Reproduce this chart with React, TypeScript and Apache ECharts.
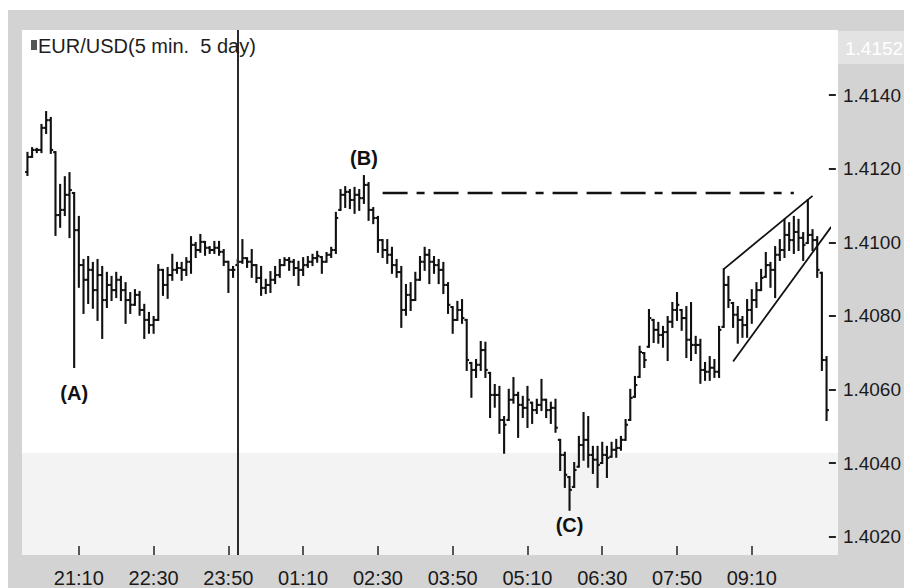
import React, { useEffect, useRef } from 'react';
import * as echarts from 'echarts';

// 5-minute bars, first bar at 20:15
const FIRST_BAR = '20:15';
const BAR_COUNT = 172;
const tickLabels = ['21:10', '22:30', '23:50', '01:10', '02:30', '03:50', '05:10', '06:30', '07:50', '09:10'];
const priceTicks = [1.402, 1.404, 1.406, 1.408, 1.41, 1.412, 1.414];
const dayBreak = '00:00';
const topPriceLabel = '1.4152';
const title = 'EUR/USD(5 min.  5 day)';

const opens = [
  1.41191, 1.41232, 1.41251, 1.41251, 1.41311, 1.41332, 1.41245, 1.41074, 1.41088, 1.41129,
  1.41134, 1.41033, 1.40938, 1.40898, 1.40925, 1.40870, 1.40911, 1.40843, 1.40884, 1.40870,
  1.40898, 1.40870, 1.40843, 1.40830, 1.40857, 1.40816, 1.40789, 1.40775, 1.40789, 1.40925,
  1.40884, 1.40911, 1.40925, 1.40930, 1.40925, 1.40947, 1.40993, 1.40979, 1.41001, 1.40985,
  1.40979, 1.40985, 1.40974, 1.40947, 1.40925, 1.40938, 1.40947, 1.40957, 1.40947, 1.40938,
  1.40903, 1.40876, 1.40884, 1.40898, 1.40911, 1.40938, 1.40952, 1.40947, 1.40930, 1.40925,
  1.40938, 1.40947, 1.40957, 1.40960, 1.40947, 1.40966, 1.40979, 1.41088, 1.41129, 1.41137,
  1.41115, 1.41129, 1.41120, 1.41156, 1.41088, 1.41066, 1.41006, 1.40979, 1.40966, 1.40938,
  1.40919, 1.40816, 1.40857, 1.40843, 1.40898, 1.40947, 1.40966, 1.40947, 1.40938, 1.40925,
  1.40884, 1.40824, 1.40789, 1.40816, 1.40789, 1.40672, 1.40653, 1.40667, 1.40707, 1.40645,
  1.40585, 1.40585, 1.40517, 1.40517, 1.40572, 1.40585, 1.40558, 1.40550, 1.40564, 1.40544,
  1.40558, 1.40572, 1.40544, 1.40550, 1.40463, 1.40422, 1.40362, 1.40335, 1.40390, 1.40449,
  1.40463, 1.40422, 1.40409, 1.40400, 1.40422, 1.40417, 1.40436, 1.40441, 1.40463, 1.40517,
  1.40580, 1.40634, 1.40699, 1.40716, 1.40789, 1.40762, 1.40748, 1.40756, 1.40784, 1.40816,
  1.40816, 1.40794, 1.40735, 1.40721, 1.40721, 1.40653, 1.40648, 1.40659, 1.40648, 1.40770,
  1.40884, 1.40835, 1.40803, 1.40789, 1.40775, 1.40816, 1.40843, 1.40870, 1.40906, 1.40938,
  1.40925, 1.40966, 1.40979, 1.41020, 1.41006, 1.41028, 1.41012, 1.40998, 1.41020, 1.41006,
  1.40917, 1.40680,
];

const highs = [
  1.41243, 1.41256, 1.41254, 1.41319, 1.41354, 1.41338, 1.41245, 1.41156, 1.41177, 1.41188,
  1.41134, 1.41069, 1.40952, 1.40960, 1.40944, 1.40952, 1.40933, 1.40917, 1.40906, 1.40917,
  1.40906, 1.40889, 1.40862, 1.40870, 1.40865, 1.40830, 1.40808, 1.40797, 1.40938, 1.40925,
  1.40930, 1.40966, 1.40944, 1.40944, 1.40957, 1.41014, 1.40998, 1.41020, 1.41001, 1.40987,
  1.41001, 1.41001, 1.40979, 1.40947, 1.40933, 1.40952, 1.41006, 1.40957, 1.40979, 1.40938,
  1.40933, 1.40898, 1.40919, 1.40933, 1.40952, 1.40957, 1.40957, 1.40952, 1.40947, 1.40957,
  1.40960, 1.40966, 1.40974, 1.40960, 1.40971, 1.40985, 1.41080, 1.41142, 1.41150, 1.41142,
  1.41148, 1.41142, 1.41180, 1.41161, 1.41093, 1.41069, 1.41006, 1.41006, 1.40985, 1.40952,
  1.40933, 1.40884, 1.40889, 1.40917, 1.40960, 1.40985, 1.40979, 1.40960, 1.40952, 1.40944,
  1.40889, 1.40824, 1.40838, 1.40843, 1.40789, 1.40672, 1.40680, 1.40729, 1.40727, 1.40645,
  1.40612, 1.40607, 1.40525, 1.40599, 1.40631, 1.40591, 1.40580, 1.40607, 1.40564, 1.40572,
  1.40626, 1.40572, 1.40564, 1.40572, 1.40463, 1.40428, 1.40362, 1.40400, 1.40471, 1.40536,
  1.40525, 1.40444, 1.40444, 1.40455, 1.40444, 1.40455, 1.40463, 1.40471, 1.40517, 1.40599,
  1.40634, 1.40716, 1.40699, 1.40816, 1.40789, 1.40781, 1.40770, 1.40797, 1.40835, 1.40862,
  1.40816, 1.40824, 1.40835, 1.40743, 1.40735, 1.40672, 1.40688, 1.40680, 1.40770, 1.40927,
  1.40906, 1.40835, 1.40824, 1.40797, 1.40843, 1.40870, 1.40889, 1.40925, 1.40971, 1.40944,
  1.40987, 1.41006, 1.41061, 1.41052, 1.41069, 1.41061, 1.41025, 1.41115, 1.41033, 1.41014,
  1.40917, 1.40688,
];

const lows = [
  1.41183, 1.41232, 1.41245, 1.41245, 1.41297, 1.41243, 1.41020, 1.41042, 1.41074, 1.41014,
  1.40661, 1.40879, 1.40808, 1.40835, 1.40822, 1.40789, 1.40740, 1.40824, 1.40843, 1.40851,
  1.40843, 1.40781, 1.40808, 1.40830, 1.40803, 1.40740, 1.40754, 1.40754, 1.40789, 1.40857,
  1.40849, 1.40898, 1.40917, 1.40898, 1.40911, 1.40917, 1.40960, 1.40974, 1.40966, 1.40971,
  1.40971, 1.40966, 1.40938, 1.40865, 1.40906, 1.40938, 1.40944, 1.40933, 1.40906, 1.40892,
  1.40857, 1.40862, 1.40865, 1.40889, 1.40906, 1.40938, 1.40925, 1.40911, 1.40884, 1.40911,
  1.40933, 1.40938, 1.40947, 1.40917, 1.40947, 1.40960, 1.40971, 1.41088, 1.41096, 1.41093,
  1.41080, 1.41088, 1.41107, 1.41061, 1.41052, 1.40974, 1.40960, 1.40944, 1.40917, 1.40906,
  1.40770, 1.40803, 1.40816, 1.40843, 1.40898, 1.40925, 1.40889, 1.40917, 1.40889, 1.40862,
  1.40808, 1.40754, 1.40789, 1.40781, 1.40653, 1.40580, 1.40634, 1.40653, 1.40634, 1.40525,
  1.40553, 1.40482, 1.40428, 1.40517, 1.40564, 1.40471, 1.40525, 1.40498, 1.40509, 1.40536,
  1.40544, 1.40525, 1.40509, 1.40485, 1.40381, 1.40335, 1.40273, 1.40335, 1.40390, 1.40409,
  1.40390, 1.40373, 1.40335, 1.40400, 1.40362, 1.40417, 1.40417, 1.40436, 1.40463, 1.40517,
  1.40580, 1.40634, 1.40661, 1.40716, 1.40729, 1.40727, 1.40716, 1.40680, 1.40770, 1.40789,
  1.40762, 1.40688, 1.40680, 1.40699, 1.40618, 1.40626, 1.40626, 1.40634, 1.40634, 1.40770,
  1.40824, 1.40770, 1.40727, 1.40743, 1.40743, 1.40781, 1.40824, 1.40870, 1.40906, 1.40879,
  1.40851, 1.40952, 1.40960, 1.40979, 1.40971, 1.40979, 1.40952, 1.40998, 1.40979, 1.40906,
  1.40653, 1.40517,
];

const closes = [
  1.41232, 1.41251, 1.41251, 1.41311, 1.41332, 1.41251, 1.41074, 1.41088, 1.41129, 1.41142,
  1.41033, 1.40938, 1.40898, 1.40925, 1.40870, 1.40911, 1.40843, 1.40884, 1.40870, 1.40898,
  1.40870, 1.40843, 1.40830, 1.40857, 1.40816, 1.40789, 1.40775, 1.40789, 1.40925, 1.40884,
  1.40911, 1.40925, 1.40930, 1.40925, 1.40947, 1.40993, 1.40979, 1.41001, 1.40985, 1.40979,
  1.40985, 1.40974, 1.40947, 1.40925, 1.40925, 1.40947, 1.40957, 1.40947, 1.40938, 1.40903,
  1.40876, 1.40884, 1.40898, 1.40911, 1.40938, 1.40952, 1.40947, 1.40930, 1.40925, 1.40938,
  1.40947, 1.40957, 1.40963, 1.40947, 1.40966, 1.40979, 1.41066, 1.41129, 1.41137, 1.41115,
  1.41129, 1.41120, 1.41156, 1.41088, 1.41066, 1.41006, 1.40979, 1.40966, 1.40938, 1.40919,
  1.40816, 1.40857, 1.40843, 1.40898, 1.40947, 1.40966, 1.40947, 1.40938, 1.40925, 1.40884,
  1.40830, 1.40789, 1.40816, 1.40794, 1.40680, 1.40653, 1.40667, 1.40707, 1.40653, 1.40585,
  1.40585, 1.40517, 1.40504, 1.40572, 1.40585, 1.40558, 1.40550, 1.40572, 1.40544, 1.40558,
  1.40572, 1.40544, 1.40550, 1.40496, 1.40422, 1.40368, 1.40327, 1.40381, 1.40449, 1.40463,
  1.40422, 1.40409, 1.40395, 1.40422, 1.40414, 1.40436, 1.40441, 1.40463, 1.40504, 1.40577,
  1.40612, 1.40702, 1.40680, 1.40794, 1.40762, 1.40748, 1.40756, 1.40784, 1.40816, 1.40830,
  1.40794, 1.40735, 1.40721, 1.40721, 1.40653, 1.40648, 1.40659, 1.40648, 1.40762, 1.40884,
  1.40843, 1.40803, 1.40789, 1.40775, 1.40816, 1.40843, 1.40870, 1.40903, 1.40938, 1.40925,
  1.40966, 1.40979, 1.41020, 1.41006, 1.41028, 1.41012, 1.40993, 1.41020, 1.41006, 1.40925,
  1.40680, 1.40544,
];

// annotation lines (bar index, price)
const resistanceLine = [[76, 1.41134], [164, 1.41134]];
const channelUpper = [[148.9, 1.40927], [168.1, 1.41126]];
const channelLower = [[151.1, 1.40676], [172.05, 1.41042]];
// wave labels (bar index, price, text)
const waveLabels = [
  { name: '(A)', value: [9.5, 1.40591] },
  { name: '(B)', value: [71.6, 1.41229] },
  { name: '(C)', value: [116.0, 1.40232] },
];

const Y_MIN = 1.4015;
const Y_MAX = 1.41577;

function buildCategories(): string[] {
  const [hh, mm] = FIRST_BAR.split(':').map(Number);
  const out: string[] = [];
  for (let i = 0; i < BAR_COUNT; i++) {
    const t = (hh * 60 + mm + i * 5) % (24 * 60);
    const h = Math.floor(t / 60);
    const m = t % 60;
    out.push(String(h).padStart(2, '0') + ':' + String(m).padStart(2, '0'));
  }
  return out;
}

const FONT = '"Liberation Sans", Arial, Helvetica, sans-serif';

export default function App() {
  const ref = useRef<HTMLDivElement>(null);

  useEffect(() => {
    if (!ref.current) return;
    const chart = echarts.init(ref.current, undefined, { renderer: 'svg' });
    const categories = buildCategories();
    const bars = categories.map((_, i) => [i, opens[i], highs[i], lows[i], closes[i]]);
    const showTick = (_idx: number, value: string) => tickLabels.includes(value);

    const option: any = {
      animation: false,
      backgroundColor: '#ffffff',
      graphic: [
        { type: 'rect', z: -100, shape: { x: 8, y: 10, width: 896, height: 578 }, style: { fill: '#d3d3d3' } },
        { type: 'rect', z: -99, shape: { x: 22, y: 30, width: 816, height: 525 }, style: { fill: '#ffffff' } },
        { type: 'rect', z: -98, shape: { x: 22, y: 453, width: 816, height: 102 }, style: { fill: '#f3f3f3' } },
        { type: 'rect', z: -98, shape: { x: 838, y: 31, width: 66, height: 33 }, style: { fill: '#e3e3e3' } },
        {
          type: 'text', z: 100, x: 845, y: 48,
          style: { text: topPriceLabel, fill: '#ffffff', font: `19px ${FONT}`, textVerticalAlign: 'middle' },
        },
        { type: 'rect', z: 100, shape: { x: 31, y: 40, width: 6, height: 10 }, style: { fill: '#555555' } },
        {
          type: 'text', z: 100, x: 38, y: 46,
          style: { text: title, fill: '#1e1e1e', font: `20px ${FONT}`, textVerticalAlign: 'middle' },
        },
      ],
      grid: { left: 25.1, right: 73.3, top: 30, bottom: 33, containLabel: false },
      xAxis: {
        type: 'category',
        data: categories,
        boundaryGap: true,
        axisLine: { show: false },
        axisTick: {
          show: true, alignWithLabel: true, inside: true, length: 9, interval: showTick,
          lineStyle: { color: '#222222', width: 1.5 },
        },
        axisLabel: {
          interval: showTick, color: '#1a1a1a', fontSize: 20, fontFamily: FONT, margin: 13,
        },
        splitLine: { show: false },
      },
      yAxis: {
        type: 'value',
        position: 'right',
        min: Y_MIN,
        max: Y_MAX,
        axisLine: { show: false },
        axisTick: { show: true, customValues: priceTicks, length: 7, lineStyle: { color: '#222222', width: 2 } },
        axisLabel: {
          customValues: priceTicks,
          formatter: (v: number) => v.toFixed(4),
          color: '#1a1a1a', fontSize: 19, fontFamily: FONT, margin: 14,
        },
        splitLine: { show: false },
      },
      series: [
        {
          type: 'custom',
          name: 'EUR/USD',
          data: bars,
          encode: { x: 0, y: [1, 2, 3, 4] },
          z: 3,
          renderItem: (_params: any, api: any) => {
            const idx = api.value(0);
            const o = api.coord([idx, api.value(1)]);
            const h = api.coord([idx, api.value(2)]);
            const l = api.coord([idx, api.value(3)]);
            const c = api.coord([idx, api.value(4)]);
            const bw = api.size([1, 0])[0];
            const half = bw * 0.5;
            const style = { stroke: '#111111', lineWidth: 2.1 };
            return {
              type: 'group',
              children: [
                { type: 'line', shape: { x1: o[0], y1: h[1] - 1, x2: o[0], y2: l[1] + 1 }, style },
                { type: 'line', shape: { x1: o[0] - half, y1: o[1], x2: o[0], y2: o[1] }, style },
                { type: 'line', shape: { x1: c[0], y1: c[1], x2: c[0] + half, y2: c[1] }, style },
              ],
            };
          },
        },
        {
          type: 'line',
          name: 'resistance',
          data: resistanceLine,
          showSymbol: false,
          symbol: 'none',
          z: 4,
          lineStyle: { color: '#111111', width: 2.5, type: [25, 9, 8, 9, 25, 9, 25, 9] },
          markLine: {
            silent: true,
            symbol: 'none',
            label: { show: false },
            lineStyle: { color: '#2a2a2a', width: 2, type: 'solid', opacity: 1 },
            data: [{ xAxis: dayBreak }],
          },
        },
        {
          type: 'line', name: 'upper', data: channelUpper, symbol: 'none', z: 4, clip: false,
          lineStyle: { color: '#111111', width: 1.8 },
        },
        {
          type: 'line', name: 'lower', data: channelLower, symbol: 'none', z: 4, clip: false,
          lineStyle: { color: '#111111', width: 1.8 },
        },
        {
          type: 'scatter',
          name: 'waves',
          data: waveLabels,
          symbolSize: 1,
          z: 5,
          itemStyle: { color: 'rgba(0,0,0,0)', opacity: 1 },
          label: {
            show: true, position: 'inside', formatter: (p: any) => p.name, opacity: 1,
            color: '#111111', fontSize: 20, fontWeight: 'bold', fontFamily: FONT,
          },
        },
      ],
    };
    chart.setOption(option);
    return () => chart.dispose();
  }, []);

  return (
    <div
      ref={ref}
      style={{ position: 'fixed', left: 0, top: 0, width: 904, height: 588 }}
    />
  );
}
